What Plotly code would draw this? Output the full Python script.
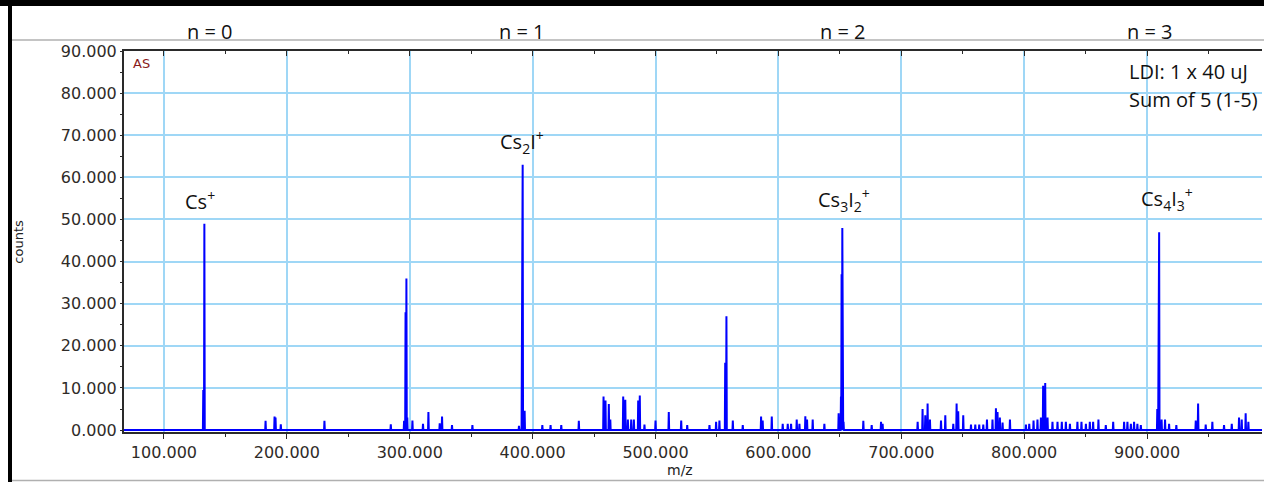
import plotly.graph_objects as go

# ---------------- data ----------------
peak_mz = [
    132.0, 132.9,
    182.7, 190.0, 190.8, 195.1, 230.6, 284.6, 295.4, 296.6, 297.3, 298.0,
    302.2, 310.8, 315.2, 324.4, 326.3, 334.4, 351.0,
    388.9, 391.3, 391.9, 393.5, 407.9, 414.6, 423.3, 437.6,
    457.7, 459.3, 462.0, 463.2, 473.7, 475.4, 477.5, 480.2, 482.4, 485.9, 487.2,
    491.0, 500.0, 510.8, 520.9, 525.8, 543.9, 549.3, 552.0, 556.7, 557.7,
    562.9, 571.0, 585.9, 587.2, 594.6, 603.5, 607.6, 610.3, 614.9, 617.1,
    621.9, 623.3, 627.9, 637.4, 649.0, 650.9, 651.4, 652.0, 653.0,
    669.1, 675.9, 683.5, 684.8, 713.3, 717.3, 719.5, 721.4, 723.3, 732.3,
    735.8, 742.3, 745.0, 746.3, 750.4, 756.7, 760.2, 763.4, 766.7, 769.7,
    774.2, 777.0, 778.3, 780.2, 782.4, 788.4, 801.4, 804.1, 807.6, 810.8,
    813.6, 815.4, 817.1, 819.0, 823.0, 827.1, 830.6, 833.9, 837.2, 843.3,
    846.6, 850.2, 853.4, 856.1, 860.4, 866.4, 872.4, 881.3, 884.0, 886.8,
    889.4, 892.1, 894.9, 908.3, 909.3, 909.8, 911.8, 914.6, 917.9, 923.8,
    939.6, 941.5, 947.7, 953.1, 962.6, 968.9, 974.8, 977.0, 980.2, 982.4,
]
peak_counts = [
    9500, 49000,
    2200, 3200, 3000, 1400, 2200, 1400, 2200, 28000, 36000, 3000,
    2300, 1500, 4300, 1600, 3200, 1200, 1200,
    1000, 35500, 63000, 4600, 1200, 1200, 1200, 2200,
    8000, 7000, 6200, 2500, 8000, 7200, 2500, 2500, 2500, 7000, 8200,
    1300, 2300, 4300, 2300, 1200, 1200, 2000, 2300, 16000, 27000,
    2300, 1200, 3200, 2300, 3200, 1500, 1500, 1500, 2500, 1500,
    3300, 2500, 2500, 1500, 4000, 8000, 37000, 48000, 2000,
    2200, 1200, 2000, 1500, 2000, 5000, 3500, 6300, 2500, 2300,
    3500, 1500, 6300, 4500, 3500, 1300, 1300, 1300, 1300, 2500,
    2500, 5200, 4300, 3000, 1800, 2500, 1300, 1500, 2300, 2500,
    3000, 10500, 11200, 3000, 2000, 2000, 2000, 2000, 1500, 2000,
    2000, 1500, 2000, 2000, 2500, 1200, 2000, 2000, 2000, 1500,
    2000, 1500, 1200, 5000, 35000, 47000, 2500, 2500, 1500, 1200,
    2300, 6300, 1300, 2000, 1200, 1500, 3000, 2500, 4000, 2000,
]

x_range = [67.5, 993.5]
y_range = [-450, 90000]

x_tick_vals = [100, 200, 300, 400, 500, 600, 700, 800, 900]
x_tick_text = ["100.000", "200.000", "300.000", "400.000", "500.000",
               "600.000", "700.000", "800.000", "900.000"]
y_tick_vals = [0, 10000, 20000, 30000, 40000, 50000, 60000, 70000, 80000, 90000]
y_tick_text = ["0.000", "10.000", "20.000", "30.000", "40.000", "50.000",
               "60.000", "70.000", "80.000", "90.000"]

ion_labels = ["Cs<sup>+</sup>", "Cs<sub>2</sub>I<sup>+</sup>",
              "Cs<sub>3</sub>I<sub>2</sub><sup>+</sup>",
              "Cs<sub>4</sub>I<sub>3</sub><sup>+</sup>"]
ion_label_mz = [129.3, 391.0, 653.7, 916.3]
ion_label_counts = [54600, 68300, 54600, 54800]

cluster_labels = ["n = 0", "n = 1", "n = 2", "n = 3"]
cluster_label_pos = [0.0756, 0.3497, 0.632, 0.9016]

info_lines = ["LDI: 1 x 40 uJ", "Sum of 5 (1-5)"]

# ---------------- build stick spectrum ----------------
pairs = sorted(zip(peak_mz, peak_counts))
half_w = 0.3
xs = [x_range[0]]
ys = [0]
for m, c in pairs:
    xs += [m - half_w, m, m + half_w]
    ys += [0, c, 0]
xs.append(x_range[1])
ys.append(0)

fig = go.Figure()
fig.add_trace(go.Scatter(
    x=xs, y=ys, mode="lines",
    line=dict(color="#0000ff", width=2),
    showlegend=False, hoverinfo="skip",
))
# anchor trace for the top (mirror) axis
fig.add_trace(go.Scatter(
    x=[x_range[0]], y=[0], xaxis="x2", yaxis="y", mode="markers",
    marker=dict(opacity=0), showlegend=False, hoverinfo="skip",
))

tick_font = dict(family="DejaVu Sans", size=16, color="#2f2b28")
grid_col = "#9fd7f6"

fig.update_layout(
    width=1264, height=482,
    margin=dict(l=124, r=2, t=51, b=50),
    paper_bgcolor="white", plot_bgcolor="white",
    xaxis=dict(
        range=x_range, tickvals=x_tick_vals, ticktext=x_tick_text,
        showgrid=True, gridcolor=grid_col, gridwidth=1.5,
        zeroline=False, showline=True, linecolor="#2a2a2a", linewidth=2,
        ticks="outside", ticklen=5, tickcolor="#2a2a2a", tickwidth=1,
        minor=dict(dtick=50, tick0=0, ticks="outside", ticklen=3,
                   tickcolor="#2a2a2a", showgrid=False),
        tickfont=tick_font,
    ),
    xaxis2=dict(
        overlaying="x", side="top", matches="x", range=x_range,
        tickvals=x_tick_vals, showticklabels=False, showgrid=False,
        zeroline=False, showline=True, linecolor="#2a2a2a", linewidth=2,
        ticks="inside", ticklen=5, tickcolor="#2a2a2a",
        minor=dict(dtick=50, tick0=0, ticks="inside", ticklen=3,
                   tickcolor="#2a2a2a", showgrid=False),
    ),
    yaxis=dict(
        range=y_range, tickvals=y_tick_vals, ticktext=y_tick_text,
        showgrid=True, gridcolor=grid_col, gridwidth=1.5,
        zeroline=False, showline=True, linecolor="#2a2a2a", linewidth=2,
        ticks="outside", ticklen=2, tickcolor="#2a2a2a",
        minor=dict(dtick=5000, tick0=0, ticks="outside", ticklen=2,
                   tickcolor="#2a2a2a", showgrid=False),
        tickfont=tick_font,
    ),
)

ann = []
txt_font = dict(family="Open Sans", size=20, color="#111111")
for lbl, px in zip(cluster_labels, cluster_label_pos):
    ann.append(dict(x=px, y=1.050, xref="paper", yref="paper", text=lbl,
                    showarrow=False, font=txt_font, xanchor="center", yanchor="middle"))
for lbl, mx, cy in zip(ion_labels, ion_label_mz, ion_label_counts):
    ann.append(dict(x=mx, y=cy, xref="x", yref="y", text=lbl, showarrow=False,
                    font=txt_font, xanchor="center", yanchor="middle"))
for i, t in enumerate(info_lines):
    ann.append(dict(x=0.8814, y=0.945 - i * 0.071, xref="paper", yref="paper",
                    text=t, showarrow=False, font=txt_font,
                    xanchor="left", yanchor="middle"))
ann.append(dict(x=0.006, y=0.966, xref="paper", yref="paper", text="AS",
                showarrow=False, font=dict(family="DejaVu Sans", size=13, color="#8b1a1a"),
                xanchor="left", yanchor="middle"))
ann.append(dict(x=-0.093, y=0.5, xref="paper", yref="paper", text="counts",
                showarrow=False, textangle=-90,
                font=dict(family="DejaVu Sans", size=13, color="#222222"),
                xanchor="center", yanchor="middle"))
ann.append(dict(x=0.489, y=-0.1, xref="paper", yref="paper", text="m/z",
                showarrow=False, font=dict(family="DejaVu Sans", size=14, color="#222222"),
                xanchor="center", yanchor="middle"))
fig.update_layout(annotations=ann)

# frame decorations (paper coords derived from plot area 124..1262 x 51..432)
def px_x(p):
    return (p - 124) / 1138.0

def px_y(p):
    return (432 - p) / 381.0

shapes = [
    dict(type="rect", xref="paper", yref="paper", x0=px_x(0), x1=px_x(1264),
         y0=px_y(6), y1=px_y(0), fillcolor="black", line=dict(width=0), layer="above"),
    dict(type="rect", xref="paper", yref="paper", x0=px_x(8), x1=px_x(12),
         y0=px_y(482), y1=px_y(0), fillcolor="black", line=dict(width=0), layer="above"),
    dict(type="line", xref="paper", yref="paper", x0=px_x(12), x1=px_x(1264),
         y0=px_y(40), y1=px_y(40), line=dict(color="#b0b0b0", width=1.5)),
    dict(type="line", xref="paper", yref="paper", x0=px_x(12), x1=px_x(1264),
         y0=px_y(480.5), y1=px_y(480.5), line=dict(color="#b0b0b0", width=1.5)),
]
fig.update_layout(shapes=shapes)

fig.write_html(
    "out.html",
    config={"displayModeBar": False},
    post_script="document.body.style.margin='0px';document.body.style.overflow='hidden';",
)
